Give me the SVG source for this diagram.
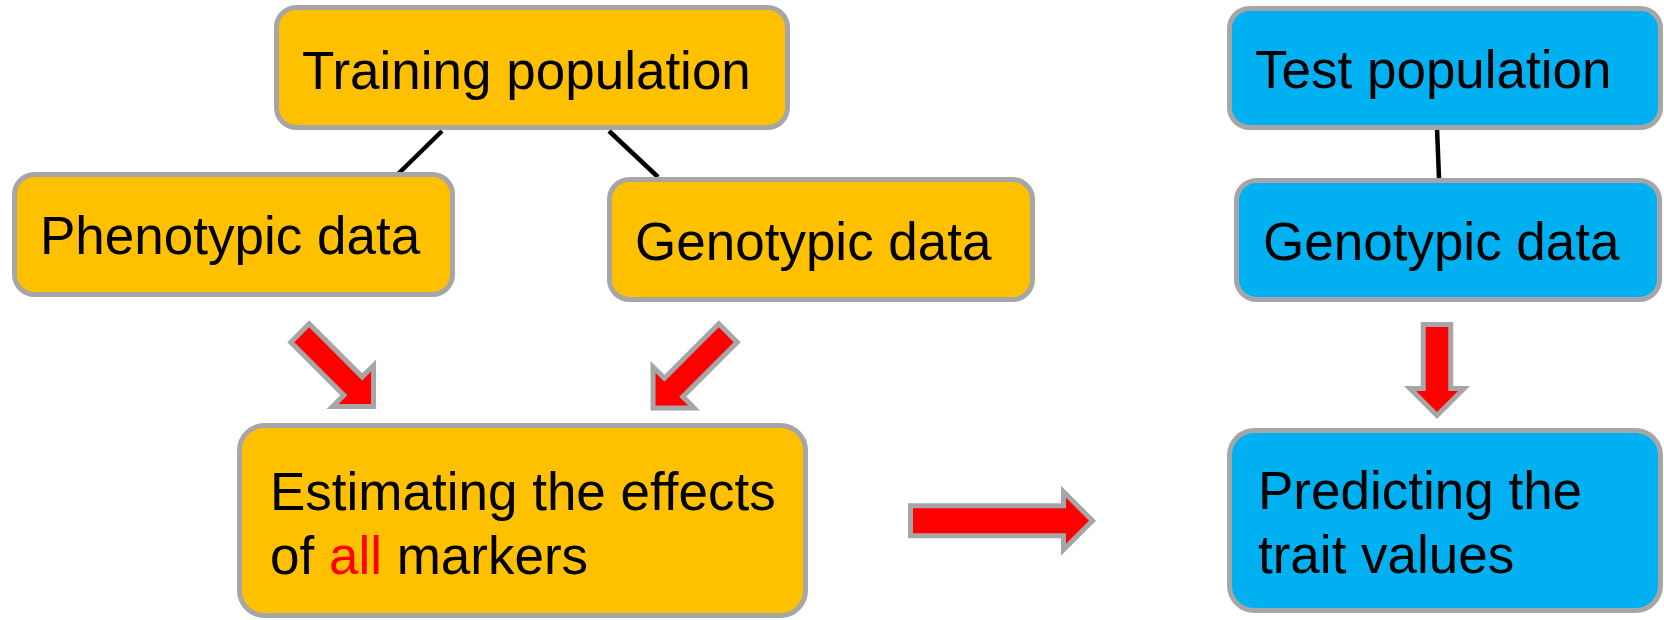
<svg xmlns="http://www.w3.org/2000/svg" width="1664" height="620" viewBox="0 0 1664 620">
  <style>
    .box { stroke: #A6A6A6; stroke-width: 5; }
    .orange { fill: #FFC000; }
    .blue { fill: #00B0F0; }
    .lbl { font-family: "Liberation Sans", Arial, sans-serif; font-size: 53px; fill: #000000; }
    .red { fill: #FF0000; }
    .conn { stroke: #000000; stroke-width: 4.5; fill: none; }
    .arrow { fill: #FF0000; stroke: #A6A6A6; stroke-width: 5; stroke-linejoin: miter; }
  </style>
  <rect width="1664" height="620" fill="#FFFFFF"/>

  <g id="connectors">
    <line class="conn" x1="442" y1="131" x2="398" y2="174"/>
    <line class="conn" x1="609" y1="131" x2="658" y2="177"/>
    <line class="conn" x1="1437" y1="128" x2="1439" y2="178"/>
    <path class="arrow" transform="translate(300,333) rotate(45)" d="M0,-13 L75,-13 L75,-29 L104,0 L75,29 L75,13 L0,13 Z"/>
    <path class="arrow" transform="translate(728,333) rotate(135)" d="M0,-13 L77,-13 L77,-29 L106,0 L77,29 L77,13 L0,13 Z"/>
    <path class="arrow" transform="translate(910.5,520.75)" d="M0,-15 L153,-15 L153,-29 L182,0 L153,29 L153,15 L0,15 Z"/>
    <path class="arrow" transform="translate(1437,324.5) rotate(90)" d="M0,-13.75 L64,-13.75 L64,-27 L91,0 L64,27 L64,13.75 L0,13.75 Z"/>
  </g>

  <g id="training">
    <rect class="box orange" x="276.5" y="7.5" width="511" height="120" rx="20"/>
    <text class="lbl" x="302" y="89">Training population</text>
  </g>
  <g id="phenotypic">
    <rect class="box orange" x="14.5" y="174.5" width="438" height="120" rx="20"/>
    <text class="lbl" x="40" y="254">Phenotypic data</text>
  </g>
  <g id="genotypic-train">
    <rect class="box orange" x="609.5" y="179.5" width="423" height="120" rx="20"/>
    <text class="lbl" x="635" y="260">Genotypic data</text>
  </g>
  <g id="estimating">
    <rect class="box orange" x="239.5" y="425.5" width="566" height="190" rx="25"/>
    <text class="lbl" x="270" y="510">Estimating the effects</text>
    <text class="lbl" x="270" y="574">of <tspan class="red">all</tspan> markers</text>
  </g>
  <g id="test">
    <rect class="box blue" x="1229.5" y="8.5" width="431" height="119" rx="20"/>
    <text class="lbl" x="1255" y="88">Test population</text>
  </g>
  <g id="genotypic-test">
    <rect class="box blue" x="1236.5" y="180.5" width="423" height="119" rx="20"/>
    <text class="lbl" x="1263" y="260">Genotypic data</text>
  </g>
  <g id="predicting">
    <rect class="box blue" x="1229.5" y="430.5" width="431" height="180" rx="25"/>
    <text class="lbl" x="1258" y="509">Predicting the</text>
    <text class="lbl" x="1258" y="573">trait values</text>
  </g>
</svg>
